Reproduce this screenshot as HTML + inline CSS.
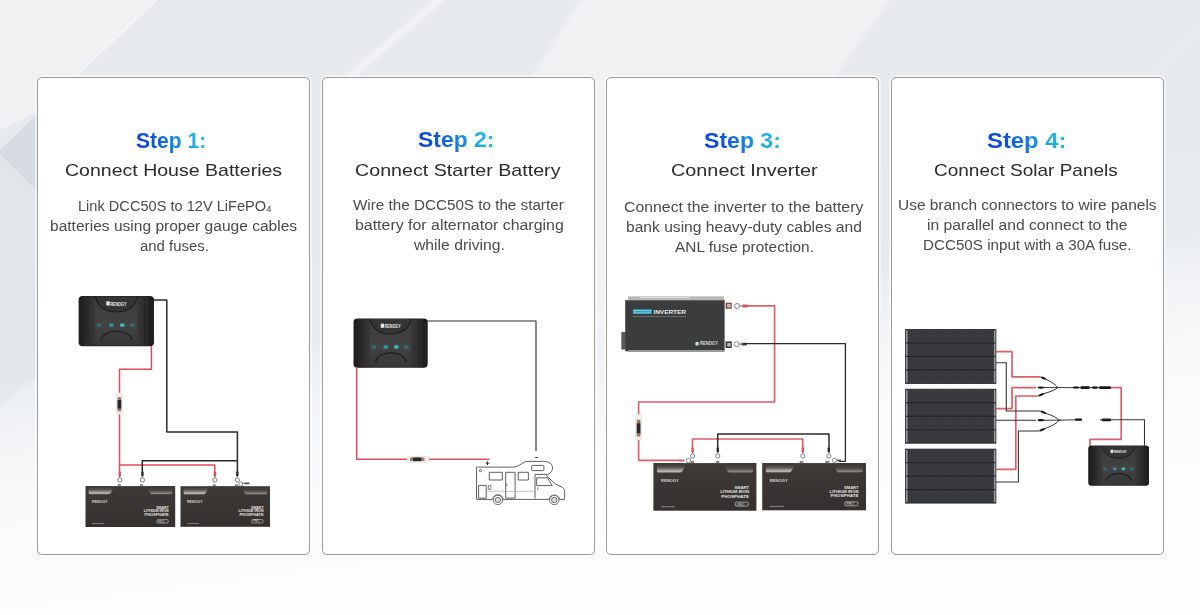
<!DOCTYPE html>
<html><head><meta charset="utf-8">
<style>
html,body{margin:0;padding:0;}
body{width:1200px;height:615px;overflow:hidden;position:relative;font-family:"Liberation Sans",sans-serif;
background:#f5f6f8;}
.bg{position:absolute;left:0;top:0;width:1200px;height:615px;}
.card{position:absolute;top:77.2px;width:273.1px;height:477.4px;box-sizing:border-box;border:1.6px solid #999;border-radius:5px;background:#fff;
box-shadow:0 0 0 1.5px rgba(255,255,255,.7);}
.tl{position:absolute;white-space:nowrap;line-height:1;transform-origin:0 0;}
.ti{font-size:22px;font-weight:bold;}
.ti span{background:linear-gradient(70deg,#0a3ed6 0%,#0b52dc 25%,#1380e2 52%,#1ca9e4 72%,#26c2e8 100%);-webkit-background-clip:text;background-clip:text;color:transparent;}
.st{font-size:17px;color:#2b2b2b;}
.de{font-size:14px;color:#4a4a4a;}
.sub{font-size:9px;vertical-align:-1px;}
svg.dg{position:absolute;left:0;top:0;}
</style></head><body>
<svg class="bg" width="1200" height="615" viewBox="0 0 1200 615">
<defs><linearGradient id="bgg" gradientUnits="userSpaceOnUse" x1="550" y1="200" x2="600" y2="600">
<stop offset="0" stop-color="#e7eaed"/><stop offset="0.25" stop-color="#e8ebee"/><stop offset="0.33" stop-color="#edf0f3"/><stop offset="0.5" stop-color="#f6f7f9"/><stop offset="0.65" stop-color="#fbfbfc"/><stop offset="1" stop-color="#fdfdfd"/></linearGradient></defs>
<filter id="bl2" x="-20%" y="-20%" width="140%" height="140%"><feGaussianBlur stdDeviation="2"/></filter>
<rect width="1200" height="615" fill="url(#bgg)"/>
<polygon points="0,0 157,0 37,112 0,130" fill="#fff" opacity="0.35"/>
<line x1="157" y1="0" x2="37" y2="112" stroke="#fff" stroke-width="2" opacity="0.35"/>
<polygon points="42,110 -2,152 42,196" fill="#c5ced6" opacity="0.5"/>
<polygon points="0,152 40,196 40,375 0,405" fill="#d0d6dc" opacity="0.22"/>
<polygon points="593,-20 904,-20 655,330 370,330" fill="#fff" opacity="0.35" filter="url(#bl2)"/>
<line x1="445" y1="-5" x2="340" y2="85" stroke="#fff" stroke-width="6" opacity="0.5" filter="url(#bl2)"/>
<line x1="1200" y1="30" x2="1150" y2="80" stroke="#fff" stroke-width="2" opacity="0.2"/>
</svg>
<div class="card" style="left:37.20px"></div>
<div class="card" style="left:321.80px"></div>
<div class="card" style="left:606.40px"></div>
<div class="card" style="left:891.00px"></div>
<div id="t1" class="tl ti" style="left:136.00px;top:129.77px;transform:scaleX(0.9583)"><span>Step 1:</span></div>
<div id="s1" class="tl st" style="left:64.57px;top:161.61px;transform:scaleX(1.1487)"><span>Connect House Batteries</span></div>
<div id="d1a" class="tl de" style="left:77.59px;top:199.15px;transform:scaleX(1.0422)"><span>Link DCC50S to 12V LiFePO<span class="sub">4</span></span></div>
<div id="d1b" class="tl de" style="left:50.21px;top:219.15px;transform:scaleX(1.1099)"><span>batteries using proper gauge cables</span></div>
<div id="d1c" class="tl de" style="left:140.21px;top:239.15px;transform:scaleX(1.0656)"><span>and fuses.</span></div>
<div id="t2" class="tl ti" style="left:418.18px;top:129.37px;transform:scaleX(1.0423)"><span>Step 2:</span></div>
<div id="s2" class="tl st" style="left:354.92px;top:161.61px;transform:scaleX(1.1567)"><span>Connect Starter Battery</span></div>
<div id="d2a" class="tl de" style="left:353.00px;top:198.15px;transform:scaleX(1.0876)"><span>Wire the DCC50S to the starter</span></div>
<div id="d2b" class="tl de" style="left:354.57px;top:218.15px;transform:scaleX(1.1366)"><span>battery for alternator charging</span></div>
<div id="d2c" class="tl de" style="left:414.12px;top:238.15px;transform:scaleX(1.1235)"><span>while driving.</span></div>
<div id="t3" class="tl ti" style="left:704.36px;top:129.77px;transform:scaleX(1.0479)"><span>Step 3:</span></div>
<div id="s3" class="tl st" style="left:670.65px;top:161.61px;transform:scaleX(1.1659)"><span>Connect Inverter</span></div>
<div id="d3a" class="tl de" style="left:624.21px;top:200.15px;transform:scaleX(1.1307)"><span>Connect the inverter to the battery</span></div>
<div id="d3b" class="tl de" style="left:625.73px;top:220.15px;transform:scaleX(1.1142)"><span>bank using heavy-duty cables and</span></div>
<div id="d3c" class="tl de" style="left:674.84px;top:240.15px;transform:scaleX(1.1000)"><span>ANL fuse protection.</span></div>
<div id="t4" class="tl ti" style="left:986.58px;top:129.77px;transform:scaleX(1.0831)"><span>Step 4:</span></div>
<div id="s4" class="tl st" style="left:934.00px;top:161.61px;transform:scaleX(1.1176)"><span>Connect Solar Panels</span></div>
<div id="d4a" class="tl de" style="left:898.37px;top:198.15px;transform:scaleX(1.1038)"><span>Use branch connectors to wire panels</span></div>
<div id="d4b" class="tl de" style="left:927.21px;top:218.15px;transform:scaleX(1.1196)"><span>in parallel and connect to the</span></div>
<div id="d4c" class="tl de" style="left:923.37px;top:238.15px;transform:scaleX(1.0848)"><span>DCC50S input with a 30A fuse.</span></div>
<svg class="dg" width="1200" height="615" viewBox="0 0 1200 615">
<defs>
<linearGradient id="gdcc" x1="0" y1="0" x2="0" y2="1">
 <stop offset="0" stop-color="#2e2e2e"/><stop offset="1" stop-color="#1c1c1c"/></linearGradient>
<linearGradient id="gdccc" x1="0" y1="0" x2="0" y2="1">
 <stop offset="0" stop-color="#3c3c3c"/><stop offset="0.6" stop-color="#424242"/><stop offset="1" stop-color="#363636"/></linearGradient>
<linearGradient id="gdccl" x1="0" y1="0" x2="1" y2="0">
 <stop offset="0" stop-color="#1e1e1e"/><stop offset="1" stop-color="#383838"/></linearGradient>
<linearGradient id="gdccr" x1="0" y1="0" x2="1" y2="0">
 <stop offset="0" stop-color="#383838"/><stop offset="1" stop-color="#1e1e1e"/></linearGradient>
<linearGradient id="gbat" x1="0" y1="0" x2="0" y2="1">
 <stop offset="0" stop-color="#3d3a37"/><stop offset="1" stop-color="#33302d"/></linearGradient>
<linearGradient id="ghl" x1="0" y1="0" x2="0" y2="1">
 <stop offset="0" stop-color="#3a3734"/><stop offset="0.4" stop-color="#5a5754"/><stop offset="0.85" stop-color="#bdbab7"/><stop offset="1" stop-color="#8a8784"/></linearGradient>
<linearGradient id="ghl2" x1="0" y1="0" x2="0" y2="1">
 <stop offset="0" stop-color="#3a3734"/><stop offset="0.5" stop-color="#4a4744"/><stop offset="0.9" stop-color="#8a8784"/><stop offset="1" stop-color="#6a6764"/></linearGradient>
<linearGradient id="gpan" x1="0" y1="0" x2="1" y2="0">
 <stop offset="0" stop-color="#3b3c3f"/><stop offset="1" stop-color="#36373a"/></linearGradient>
<pattern id="pcell" width="3.2" height="14" patternUnits="userSpaceOnUse">
 <rect width="3.2" height="14" fill="#3a3b3e"/><rect x="2.6" width="0.6" height="14" fill="#333437"/></pattern>

<symbol id="dcc" viewBox="0 0 76 50" overflow="visible" preserveAspectRatio="none">
 <rect x="0" y="0" width="76" height="50" rx="4" fill="#222"/>
 <rect x="0.6" y="0.6" width="16" height="48.8" rx="3.5" fill="url(#gdccl)"/>
 <rect x="59.4" y="0.6" width="16" height="48.8" rx="3.5" fill="url(#gdccr)"/>
 <rect x="4" y="2" width="0.7" height="46" fill="#1c1c1c"/>
 <rect x="9" y="2" width="0.7" height="46" fill="#262626"/>
 <rect x="66.3" y="2" width="0.7" height="46" fill="#262626"/>
 <rect x="71.3" y="2" width="0.7" height="46" fill="#1c1c1c"/>
 <path d="M16.5 0.8 H59.5 V49.2 H16.5Z" fill="url(#gdccc)"/>
 <path d="M16.5 0.8 H59.5 C57 11 49 15.8 38 15.8 C27 15.8 19 11 16.5 0.8Z" fill="#343434"/>
 <path d="M17 0.8 C19.5 11 27 15.8 38 15.8 C49 15.8 56.5 11 59 0.8" fill="none" stroke="#1e1e1e" stroke-width="1.2"/>
 <rect x="27.9" y="5.3" width="3.4" height="4.2" fill="#e6e6e6"/>
 <text x="31.8" y="9.5" font-size="4.8" font-weight="bold" fill="#eeeeee" font-family="Liberation Sans" textLength="16.5" lengthAdjust="spacingAndGlyphs">RENOGY</text>
 <rect x="18.5" y="27.3" width="4.6" height="3.4" rx="1" fill="#2b7f95" opacity="0.6"/>
 <rect x="30.8" y="27.3" width="4.5" height="3.4" rx="1" fill="#2fa6bf" opacity="0.8"/>
 <rect x="41.7" y="27.3" width="4.5" height="3.4" rx="1" fill="#3cc7d6" opacity="0.9"/>
 <rect x="52" y="27.3" width="4.6" height="3.4" rx="1" fill="#2b8aa0" opacity="0.6"/>
 <path d="M22.5 44 C24 38.5 30 35 38.2 35 C46.5 35 52.5 38.5 54 44" fill="none" stroke="#1c1c1c" stroke-width="1.3"/>
 <circle cx="2.4" cy="2.4" r="0.9" fill="#0e0e0e"/><circle cx="73.6" cy="2.4" r="0.9" fill="#0e0e0e"/>
 <circle cx="2.4" cy="47.6" r="0.9" fill="#0e0e0e"/><circle cx="73.6" cy="47.6" r="0.9" fill="#0e0e0e"/>
</symbol>

<symbol id="bat" viewBox="0 0 104 48" overflow="visible" preserveAspectRatio="none">
 <rect x="37.5" y="-2.2" width="3.4" height="3" fill="#8a8886"/>
 <rect x="63.2" y="-2.2" width="3.4" height="3" fill="#8a8886"/>
 <rect x="0" y="0" width="104" height="48" fill="url(#gbat)"/>
 <path d="M3.6 1.6 H25 C28 1.6 30 1.2 33 1.2 C31 4 30 9.7 26.5 9.7 H4.5 L3.6 8.5Z" fill="url(#ghl)"/>
 <path d="M100.6 1.6 H79 C76 1.6 74 1.2 71 1.2 C73 4 74 9.7 77.5 9.7 H99.5 L100.6 8.5Z" fill="url(#ghl2)"/>
 <rect x="30" y="0" width="45" height="1.2" fill="#4a4744"/>
 <text x="7.6" y="19.5" font-size="3.6" font-weight="bold" fill="#d6d4d2" font-family="Liberation Sans" textLength="18" lengthAdjust="spacingAndGlyphs">RENOGY</text>
 <g font-size="3.7" font-weight="bold" fill="#e6e4e2" font-family="Liberation Sans" text-anchor="end">
 <text x="96.5" y="26.4" textLength="14.5" lengthAdjust="spacingAndGlyphs">SMART</text>
 <text x="96.5" y="30.6" textLength="29" lengthAdjust="spacingAndGlyphs">LITHIUM IRON</text>
 <text x="96.5" y="34.8" textLength="28" lengthAdjust="spacingAndGlyphs">PHOSPHATE</text>
 </g>
 <rect x="82.8" y="39.4" width="13" height="4" rx="1" fill="none" stroke="#cfcdcb" stroke-width="0.7"/>
 <text x="84.5" y="42.8" font-size="3.4" fill="#dddbd9" font-family="Liberation Sans">PRO</text>
 <rect x="7.6" y="43.5" width="14" height="1" fill="#8a8886"/>
</symbol>

<symbol id="fuse" viewBox="0 0 6 22" overflow="visible" preserveAspectRatio="none">
 <rect x="0" y="0" width="6" height="22" rx="2" fill="#f1f1f1" stroke="#d4d4d4" stroke-width="0.5"/>
 <rect x="1.3" y="4.5" width="3.4" height="3" fill="#9a7a50"/>
 <rect x="1.1" y="7.5" width="3.8" height="9" fill="#2a2628"/>
 <rect x="1.3" y="16.5" width="3.4" height="2.5" fill="#9a7a50"/>
</symbol>
</defs>
<path d="M151.4,345 L151.4,369.3 L119.5,369.3 L119.5,472" fill="none" stroke="#e44b58" stroke-width="1.5" stroke-linejoin="round"/>
<use href="#fuse" x="116.4" y="392.7" width="6" height="21.5"/>
<path d="M119.5,465 L214.8,465 L214.8,472" fill="none" stroke="#e44b58" stroke-width="1.5" stroke-linejoin="round"/>
<path d="M153,300 L166.8,300 L166.8,432 L237.4,432 L237.4,472" fill="none" stroke="#2b2b2b" stroke-width="1.5" stroke-linejoin="round"/>
<path d="M142.3,472 L142.3,460.8 L237.4,460.8" fill="none" stroke="#2b2b2b" stroke-width="1.5" stroke-linejoin="round"/>
<rect x="118.6" y="471.5" width="2.4" height="4.6" rx="0.6" fill="#e44b58"/>
<path d="M118.89999999999999 476.1 L119.8 478 L120.7 476.1Z" fill="#666"/>
<circle cx="119.8" cy="480" r="2.1" fill="none" stroke="#707070" stroke-width="0.9"/>
<path d="M118.5 486.3 L119.8 484.6 L121.1 486.3Z" fill="#8a8886"/>
<rect x="141.20000000000002" y="471.5" width="2.4" height="4.6" rx="0.6" fill="#2b2b2b"/>
<path d="M141.5 476.1 L142.4 478 L143.3 476.1Z" fill="#666"/>
<circle cx="142.4" cy="480" r="2.1" fill="none" stroke="#707070" stroke-width="0.9"/>
<path d="M141.1 486.3 L142.4 484.6 L143.70000000000002 486.3Z" fill="#8a8886"/>
<rect x="213.70000000000002" y="471.5" width="2.4" height="4.6" rx="0.6" fill="#e44b58"/>
<path d="M214.0 476.1 L214.9 478 L215.8 476.1Z" fill="#666"/>
<circle cx="214.9" cy="480" r="2.1" fill="none" stroke="#707070" stroke-width="0.9"/>
<path d="M213.6 486.3 L214.9 484.6 L216.20000000000002 486.3Z" fill="#8a8886"/>
<rect x="236.10000000000002" y="471.5" width="2.4" height="4.6" rx="0.6" fill="#2b2b2b"/>
<path d="M236.4 476.1 L237.3 478 L238.20000000000002 476.1Z" fill="#666"/>
<circle cx="237.3" cy="480" r="2.1" fill="none" stroke="#707070" stroke-width="0.9"/>
<path d="M236.0 486.3 L237.3 484.6 L238.60000000000002 486.3Z" fill="#8a8886"/>
<circle cx="240.7" cy="484" r="2" fill="none" stroke="#707070" stroke-width="0.8"/>
<path d="M242.5 483.2 L245 482.6 H249.5 V484.2 H245Z" fill="#555"/>
<use href="#dcc" x="78.6" y="296" width="75.4" height="50.2"/>
<use href="#bat" x="85.5" y="486" width="89.7" height="41"/>
<use href="#bat" x="180.5" y="486.2" width="89.5" height="40.6"/>
<use href="#dcc" x="353.5" y="318.4" width="74.2" height="49.4"/>
<path d="M426,321 L536,321 L536,451" fill="none" stroke="#2b2b2b" stroke-width="1.1" stroke-linejoin="round"/>
<path d="M356.7,367 L356.7,459.3 L489.4,459.3" fill="none" stroke="#e44b58" stroke-width="1.5" stroke-linejoin="round"/>
<g transform="translate(418,459.3) rotate(90)"><use href="#fuse" x="-3" y="-11" width="6" height="22"/></g>
<path d="M485.6 463.2 H489.4 M487.5 461.3 V465.1" stroke="#333" stroke-width="1"/>
<rect x="535.2" y="457" width="3" height="1" fill="#444"/>
<g fill="none" stroke="#4d4d4d" stroke-width="0.9" stroke-linejoin="round">
<path d="M476.5 467.3 Q476 467.1 477.5 467.1 H514 C517 467.1 521 464 524.5 462 C526 461.4 527 461.4 528 461.4 H543.5 C549 461.4 552.5 464 552.5 468 C552.5 471.5 549.5 474.4 547 474.4 H535 V498.5"/>
<path d="M476.5 467.3 V499.4 H492.7 M503.2 499.4 H549.1 M559.5 499.4 H564.6 V491.5 C564.6 488.8 563 487.6 561.5 487 L555 483.8 L546.3 475.5"/>
<path d="M492.7 499.4 A5.3 5.3 0 0 1 503.2 499.4 M549.1 499.4 A5.3 5.3 0 0 1 559.5 499.4"/>
<rect x="489.3" y="472.3" width="13" height="7.7"/>
<rect x="518.2" y="472.3" width="10.2" height="7.7"/>
<rect x="531.6" y="465.4" width="12.3" height="5.2" rx="1"/>
<rect x="505.7" y="472.3" width="9.4" height="25.8"/>
<rect x="478.6" y="485.4" width="7.6" height="12.8"/>
<path d="M536.7 477.8 H547.5 L552.3 485.6 H536.7Z"/>
<circle cx="480.5" cy="470.6" r="1.1"/>
<path d="M487 491.3 H534.5" stroke="#9a9a9a" stroke-width="0.6"/>
<rect x="488.3" y="485.6" width="2.6" height="3.8" stroke-width="0.7"/>
<path d="M506.8 483.5 V486" stroke-width="0.7"/>
<path d="M537.8 487.5 V490.5" stroke-width="0.7"/>
</g>
<g stroke="#4d4d4d" stroke-width="0.8">
<circle cx="497.9" cy="500" r="4.7" fill="#fff"/>
<circle cx="497.9" cy="500" r="2.7" fill="#ddd"/>
<circle cx="554.3" cy="500" r="4.7" fill="#fff"/>
<circle cx="554.3" cy="500" r="2.7" fill="#ddd"/>
</g>
<g>
<rect x="628" y="296.3" width="96" height="4.5" fill="#b9b9b9"/>
<rect x="640" y="296.3" width="50" height="2" fill="#d6d6d6"/>
<rect x="621.3" y="332" width="4.5" height="17.5" fill="#5a5a5a"/>
<rect x="625.2" y="300" width="99.4" height="51.3" fill="#3b3c3e"/>
<rect x="625.2" y="300" width="99.4" height="0.8" fill="#6a6a6a"/>
<rect x="628" y="350" width="96" height="2" fill="#9a9a9a"/>
<rect x="633" y="309.3" width="18.7" height="4.6" fill="#2ba6c6"/>
<rect x="634.2" y="310.3" width="16.3" height="2.6" fill="none" stroke="#bfe6ef" stroke-width="0.5"/>
<text x="653.4" y="313.9" font-size="6.2" font-weight="bold" fill="#e8e8e8" font-family="Liberation Sans" textLength="32.6" lengthAdjust="spacingAndGlyphs">INVERTER</text>
<rect x="633" y="316" width="53" height="0.8" fill="#767676"/>
<text x="695.3" y="345.3" font-size="4.6" font-weight="bold" fill="#dcdcdc" font-family="Liberation Sans" textLength="22.7" lengthAdjust="spacingAndGlyphs">◉ RENOGY</text>
<rect x="725.6" y="302.7" width="6.2" height="6.1" fill="#8a4a3c"/>
<rect x="727.2" y="304" width="3.5" height="3.5" fill="#bfbfbf"/>
<rect x="725.6" y="341.4" width="6.2" height="6.6" fill="#333"/>
<rect x="727.2" y="343" width="3.5" height="3.5" fill="#bfbfbf"/>
</g>
<path d="M745,305.8 L774.6,305.8 L774.6,402 L638.6,402 L638.6,460.3 L681,460.3" fill="none" stroke="#dc6068" stroke-width="1.7" stroke-linejoin="round"/>
<use href="#fuse" x="635.6" y="414.5" width="6" height="25.5"/>
<circle cx="737" cy="306" r="2.5" fill="none" stroke="#7a7a7a" stroke-width="0.9"/>
<rect x="739.5" y="305.4" width="3" height="1" fill="#777"/>
<rect x="742.3" y="304.4" width="5.5" height="3" rx="1" fill="#e44b58"/>
<circle cx="736.6" cy="344.2" r="2.5" fill="none" stroke="#7a7a7a" stroke-width="0.9"/>
<rect x="739" y="343.6" width="3" height="1" fill="#777"/>
<rect x="741.5" y="342.8" width="5.5" height="2.8" rx="1" fill="#444"/>
<path d="M744,343.7 L845.4,343.7 L845.4,461.3 L839,461.3" fill="none" stroke="#2b2b2b" stroke-width="1.3" stroke-linejoin="round"/>
<path d="M692.5,448 L692.5,439 L802.7,439 L802.7,448" fill="none" stroke="#dc6068" stroke-width="1.7" stroke-linejoin="round"/>
<path d="M717.7,448 L717.7,434 L829,434 L829,448" fill="none" stroke="#2b2b2b" stroke-width="1.5" stroke-linejoin="round"/>
<rect x="691.4" y="447.5" width="2.4" height="4.6" rx="0.6" fill="#e44b58"/>
<path d="M691.7 452.1 L692.6 454 L693.5 452.1Z" fill="#666"/>
<circle cx="692.6" cy="456" r="2.1" fill="none" stroke="#707070" stroke-width="0.9"/>
<path d="M691.3000000000001 462.3 L692.6 460.6 L693.9 462.3Z" fill="#8a8886"/>
<rect x="716.5999999999999" y="447.5" width="2.4" height="4.6" rx="0.6" fill="#2b2b2b"/>
<path d="M716.9 452.1 L717.8 454 L718.6999999999999 452.1Z" fill="#666"/>
<circle cx="717.8" cy="456" r="2.1" fill="none" stroke="#707070" stroke-width="0.9"/>
<path d="M716.5 462.3 L717.8 460.6 L719.0999999999999 462.3Z" fill="#8a8886"/>
<rect x="801.5999999999999" y="447.5" width="2.4" height="4.6" rx="0.6" fill="#e44b58"/>
<path d="M801.9 452.1 L802.8 454 L803.6999999999999 452.1Z" fill="#666"/>
<circle cx="802.8" cy="456" r="2.1" fill="none" stroke="#707070" stroke-width="0.9"/>
<path d="M801.5 462.3 L802.8 460.6 L804.0999999999999 462.3Z" fill="#8a8886"/>
<rect x="827.5999999999999" y="447.5" width="2.4" height="4.6" rx="0.6" fill="#2b2b2b"/>
<path d="M827.9 452.1 L828.8 454 L829.6999999999999 452.1Z" fill="#666"/>
<circle cx="828.8" cy="456" r="2.1" fill="none" stroke="#707070" stroke-width="0.9"/>
<path d="M827.5 462.3 L828.8 460.6 L830.0999999999999 462.3Z" fill="#8a8886"/>
<rect x="679.5" y="459.6" width="5" height="2" fill="#dc6068"/>
<circle cx="688.5" cy="460.6" r="2.3" fill="none" stroke="#7a7a7a" stroke-width="0.9"/>
<circle cx="834.5" cy="460.3" r="2.2" fill="none" stroke="#7a7a7a" stroke-width="0.9"/>
<rect x="837" y="459.5" width="4" height="1.8" fill="#555"/>
<use href="#bat" x="653.4" y="463" width="103" height="47.7"/>
<use href="#bat" x="762.2" y="463" width="103.8" height="47.3"/>
<rect x="905.4" y="329.4" width="90.5" height="54" fill="url(#pcell)" stroke="#232427" stroke-width="0.8"/>
<rect x="905.9" y="330.4" width="1.6" height="52" fill="#9a9b9d"/>
<rect x="994.1" y="330.4" width="1.2" height="52" fill="#b0b1b3"/>
<rect x="906" y="342.4" width="89.5" height="1.1" fill="#242527"/>
<rect x="906" y="355.9" width="89.5" height="1.1" fill="#242527"/>
<rect x="906" y="369.4" width="89.5" height="1.1" fill="#242527"/>
<rect x="905.4" y="389.2" width="90.5" height="54" fill="url(#pcell)" stroke="#232427" stroke-width="0.8"/>
<rect x="905.9" y="390.2" width="1.6" height="52" fill="#9a9b9d"/>
<rect x="994.1" y="390.2" width="1.2" height="52" fill="#b0b1b3"/>
<rect x="906" y="402.2" width="89.5" height="1.1" fill="#242527"/>
<rect x="906" y="415.7" width="89.5" height="1.1" fill="#242527"/>
<rect x="906" y="429.2" width="89.5" height="1.1" fill="#242527"/>
<rect x="905.4" y="449.1" width="90.5" height="54" fill="url(#pcell)" stroke="#232427" stroke-width="0.8"/>
<rect x="905.9" y="450.1" width="1.6" height="52" fill="#9a9b9d"/>
<rect x="994.1" y="450.1" width="1.2" height="52" fill="#b0b1b3"/>
<rect x="906" y="462.1" width="89.5" height="1.1" fill="#242527"/>
<rect x="906" y="475.6" width="89.5" height="1.1" fill="#242527"/>
<rect x="906" y="489.1" width="89.5" height="1.1" fill="#242527"/>
<path d="M996,351.7 L1012,351.7 L1012,376.9 L1040,376.9" fill="none" stroke="#dc6068" stroke-width="1.7" stroke-linejoin="round"/>
<path d="M996,408.6 L1012,408.6 L1012,387.6 L1036,387.6" fill="none" stroke="#dc6068" stroke-width="1.7" stroke-linejoin="round"/>
<path d="M996,469.3 L1015.8,469.3 L1015.8,396 L1038,396" fill="none" stroke="#dc6068" stroke-width="1.7" stroke-linejoin="round"/>
<path d="M996,362.8 L1006.3,362.8 L1006.3,411 L1040,411" fill="none" stroke="#333" stroke-width="1.1" stroke-linejoin="round"/>
<path d="M996,420.2 L1036,420.2" fill="none" stroke="#333" stroke-width="1.1" stroke-linejoin="round"/>
<path d="M996,482 L1018.4,482 L1018.4,431 L1039,431" fill="none" stroke="#333" stroke-width="1.1" stroke-linejoin="round"/>
<path d="M1046 379.29999999999995 Q1055.0 383.45 1057.5 387.6" fill="none" stroke="#1a1a1a" stroke-width="0.9"/>
<ellipse cx="1043.2" cy="378.09999999999997" rx="3.3" ry="1.1" fill="#111" transform="rotate(22 1043.2 378.09999999999997)"/>
<path d="M1042.8 387.6 L1059.5 387.6" fill="none" stroke="#1a1a1a" stroke-width="0.9"/>
<ellipse cx="1040.8" cy="387.6" rx="3.2" ry="1.1" fill="#111"/>
<path d="M1044 393.6 Q1055.0 390.6 1057.5 387.6" fill="none" stroke="#1a1a1a" stroke-width="0.9"/>
<ellipse cx="1041.2" cy="394.8" rx="3.3" ry="1.1" fill="#111" transform="rotate(-22 1041.2 394.8)"/>
<path d="M1046 413.4 Q1056.5 416.79999999999995 1059 420.2" fill="none" stroke="#1a1a1a" stroke-width="0.9"/>
<ellipse cx="1043.2" cy="412.2" rx="3.3" ry="1.1" fill="#111" transform="rotate(22 1043.2 412.2)"/>
<path d="M1042.8 420.2 L1061 420.2" fill="none" stroke="#1a1a1a" stroke-width="0.9"/>
<ellipse cx="1040.8" cy="420.2" rx="3.2" ry="1.1" fill="#111"/>
<path d="M1045 428.6 Q1056.5 424.4 1059 420.2" fill="none" stroke="#1a1a1a" stroke-width="0.9"/>
<ellipse cx="1042.2" cy="429.8" rx="3.3" ry="1.1" fill="#111" transform="rotate(-22 1042.2 429.8)"/>
<path d="M1057.5,387.6 L1111,387.6" fill="none" stroke="#222" stroke-width="0.9" stroke-linejoin="round"/>
<rect x="1073" y="386.6" width="6" height="2" rx="1" fill="#111"/>
<rect x="1080.7" y="386.2" width="8.8" height="2.8" fill="#1a1a1a"/>
<rect x="1092.4" y="386.4" width="5" height="2.4" fill="#1a1a1a"/>
<rect x="1099" y="386.2" width="12" height="2.8" rx="1" fill="#1a1a1a"/>
<path d="M1111,387.6 L1121.2,387.6 L1121.2,439.3 L1090,439.3 L1090,446" fill="none" stroke="#dc6068" stroke-width="1.7" stroke-linejoin="round"/>
<path d="M1059,420.2 L1081.7,419.6" fill="none" stroke="#222" stroke-width="0.9" stroke-linejoin="round"/>
<rect x="1075" y="418.5" width="7" height="2.2" rx="1" fill="#111"/>
<rect x="1101.7" y="418.4" width="9.3" height="2.8" rx="1" fill="#111"/>
<path d="M1100,419.8 L1144.5,419.8 L1144.5,446" fill="none" stroke="#333" stroke-width="1.1" stroke-linejoin="round"/>
<use href="#dcc" x="1088.3" y="445.4" width="60.7" height="40.3"/>
</svg>
</body></html>
